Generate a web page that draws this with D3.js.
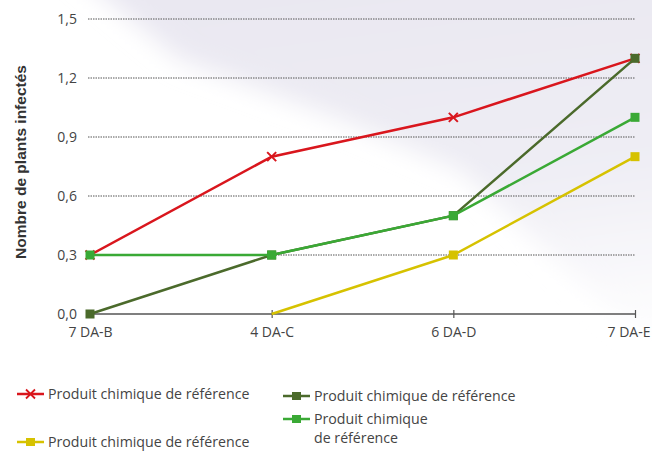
<!DOCTYPE html>
<html>
<head>
<meta charset="utf-8">
<script src="https://cdn.jsdelivr.net/npm/d3@7"></script>
<style>
  html, body { margin: 0; padding: 0; background: #fff; }
  svg { display: block; }
</style>
</head>
<body>
<svg id="chart"></svg>
<script>
const categories = ['7 DA-B', '4 DA-C', '6 DA-D', '7 DA-E'];
const yTicks = [0, 0.3, 0.6, 0.9, 1.2, 1.5];
const redValues = [0.3, 0.8, 1.0, 1.3];
const oliveValues = [0, 0.3, 0.5, 1.3];
const greenValues = [0.3, 0.3, 0.5, 1.0];
const yellowValues = [null, 0, 0.3, 0.8];
const legendLabel = 'Produit chimique de référence';

const chart_width = 652, chart_height = 451;
const FONT = '"Open Sans", "DejaVu Sans", sans-serif';

const svg = d3.select('#chart')
    .attr('width', chart_width)
    .attr('height', chart_height)
    .style('font-family', FONT);

// soft lavender backdrop
const defs = svg.append('defs');
defs.append('filter').attr('id', 'blur')
    .attr('x', '-30%').attr('y', '-30%').attr('width', '160%').attr('height', '160%')
    .append('feGaussianBlur').attr('stdDeviation', 12);
const grad = defs.append('linearGradient').attr('id', 'bg')
    .attr('x1', '0.3').attr('y1', '0').attr('x2', '0.5').attr('y2', '1');
grad.append('stop').attr('offset', '0').attr('stop-color', '#e9e7f1');
grad.append('stop').attr('offset', '0.55').attr('stop-color', '#eeedf4');
grad.append('stop').attr('offset', '1').attr('stop-color', '#ffffff');

svg.append('path')
    .attr('d', 'M60,-40 L700,-40 L700,380 L600,300 L460,170 L330,115 L180,60 Z')
    .attr('fill', 'url(#bg)')
    .attr('filter', 'url(#blur)');

const x = d3.scalePoint()
    .domain(categories)
    .range([90, 635]);

const y = d3.scaleLinear()
    .domain([0, 1.5])
    .range([314, 19]);

// gridlines
svg.append('g')
    .selectAll('line')
    .data(yTicks.filter(d => d > 0))
    .enter()
    .append('line')
    .attr('x1', 88).attr('x2', 635)
    .attr('y1', d => y(d)).attr('y2', d => y(d))
    .attr('stroke', '#555')
    .attr('stroke-width', 1)
    .attr('stroke-dasharray', '1.5,1');

// y tick labels
svg.append('g')
    .selectAll('text')
    .data(yTicks)
    .enter()
    .append('text')
    .attr('x', 77)
    .attr('y', d => y(d) + 5)
    .attr('text-anchor', 'end')
    .attr('font-size', 14)
    .attr('fill', '#444')
    .text(d => d3.format('.1f')(d).replace('.', ','));

// x axis
const x_axis = d3.axisBottom(x).tickSize(4).tickSizeOuter(0);
const xg = svg.append('g')
    .attr('transform', 'translate(0,' + y(0) + ')')
    .call(x_axis);
xg.select('.domain').attr('stroke', '#555').attr('stroke-width', 1.5)
    .attr('d', 'M' + x(categories[0]) + ',0H' + x(categories[3]));
xg.selectAll('.tick line').attr('stroke', '#555').attr('stroke-width', 1.2)
    .attr('y1', -4).attr('y2', 4);
xg.selectAll('.tick text')
    .attr('font-size', 14)
    .attr('fill', '#444')
    .attr('font-family', FONT)
    .attr('y', 23)
    .attr('dy', 0)
    .attr('text-anchor', (d, i) => i === categories.length - 1 ? 'end' : 'middle')
    .attr('dx', (d, i) => i === categories.length - 1 ? 15 : 0);

// y title
svg.append('text')
    .attr('transform', 'translate(26,' + 162 + ') rotate(-90)')
    .attr('text-anchor', 'middle')
    .attr('font-family', '"Liberation Sans", Arial, sans-serif')
    .attr('font-weight', 'bold')
    .attr('font-size', 15.5)
    .attr('fill', '#333')
    .text('Nombre de plants infectés');

const series = [
    { name: 'yellow', values: yellowValues, color: '#d6c200', marker: 'square', skip: [1] },
    { name: 'red', values: redValues, color: '#d9161d', marker: 'cross', skip: [] },
    { name: 'olive', values: oliveValues, color: '#4b6a2b', marker: 'square', skip: [] },
    { name: 'green', values: greenValues, color: '#3aa935', marker: 'square', skip: [] }
];

const lineFunc = d3.line()
    .defined(d => d.v !== null)
    .x(d => x(d.c))
    .y(d => y(d.v));

series.forEach(s => {
    const pts = s.values.map((v, i) => ({ c: categories[i], v: v, i: i }));
    svg.append('path')
        .attr('fill', 'none')
        .attr('stroke', s.color)
        .attr('stroke-width', 2.5)
        .attr('d', lineFunc(pts));
    const mk = pts.filter(p => p.v !== null && s.skip.indexOf(p.i) < 0);
    if (s.marker === 'square') {
        svg.append('g').selectAll('rect').data(mk).enter().append('rect')
            .attr('x', d => x(d.c) - 4.5)
            .attr('y', d => y(d.v) - 4.5)
            .attr('width', 9).attr('height', 9)
            .attr('fill', s.color);
    } else {
        svg.append('g').selectAll('path').data(mk).enter().append('path')
            .attr('d', d => {
                const cx = x(d.c), cy = y(d.v), r = 4.5;
                return 'M' + (cx - r) + ',' + (cy - r) + 'L' + (cx + r) + ',' + (cy + r) +
                    'M' + (cx - r) + ',' + (cy + r) + 'L' + (cx + r) + ',' + (cy - r);
            })
            .attr('stroke', s.color)
            .attr('stroke-width', 2);
    }
});

// legend
const legendItems = [
    { color: '#d9161d', marker: 'cross', x: 17, y: 394, lines: [legendLabel] },
    { color: '#4b6a2b', marker: 'square', x: 283, y: 396, lines: [legendLabel] },
    { color: '#3aa935', marker: 'square', x: 283, y: 419, lines: ['Produit chimique', 'de référence'] },
    { color: '#d6c200', marker: 'square', x: 17, y: 442, lines: [legendLabel] }
];

const factLegend = svg.selectAll('.legend')
    .data(legendItems)
    .enter()
    .append('g')
    .attr('class', 'legend')
    .attr('transform', d => 'translate(' + d.x + ',' + d.y + ')');

factLegend.append('line')
    .attr('x1', 0).attr('x2', 27)
    .attr('stroke', d => d.color)
    .attr('stroke-width', 2.5);

factLegend.each(function (d) {
    const g = d3.select(this);
    if (d.marker === 'square') {
        g.append('rect').attr('x', 9).attr('y', -4).attr('width', 9).attr('height', 8).attr('fill', d.color);
    } else {
        g.append('path').attr('d', 'M9,-4.5L18,4.5M9,4.5L18,-4.5')
            .attr('stroke', d.color).attr('stroke-width', 1.8);
    }
    // one text per line so wrapped lines don't stack boxes
    d.lines.forEach((l, i) => {
        g.append('text')
            .attr('x', 31)
            .attr('y', 5 + i * 19)
            .attr('font-size', 14.2)
            .attr('fill', '#444')
            .text(l);
    });
});
</script>
</body>
</html>
